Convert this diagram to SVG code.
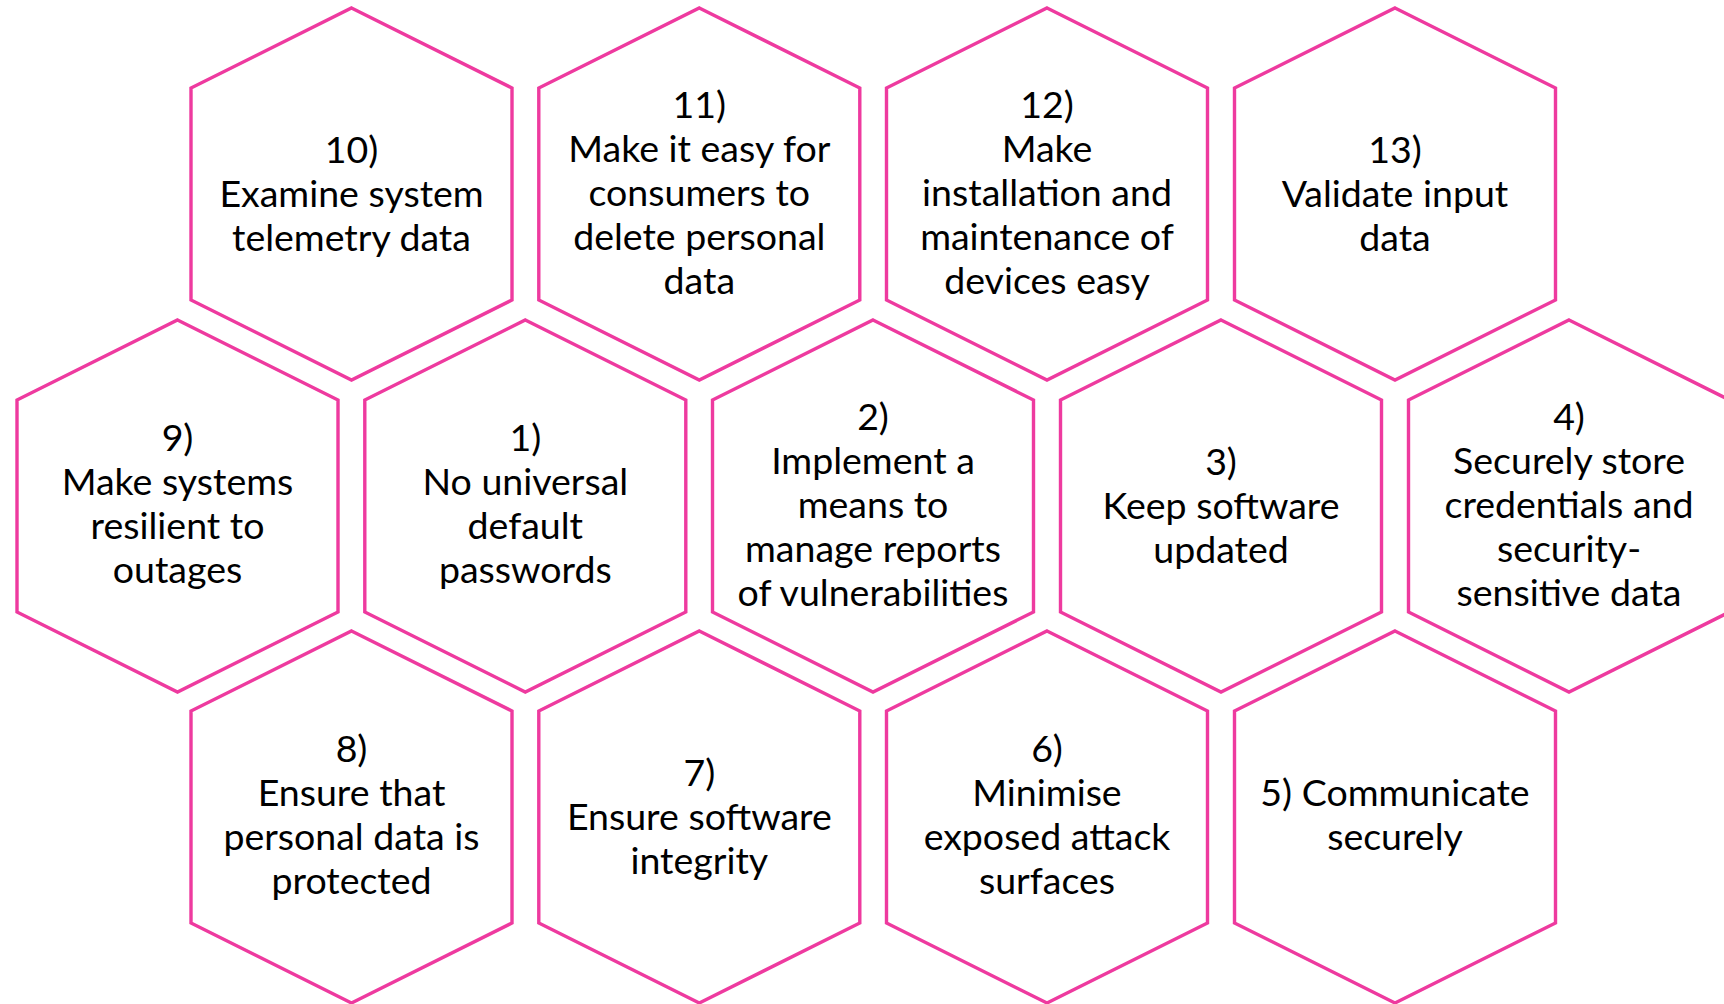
<svg xmlns="http://www.w3.org/2000/svg" xmlns:xlink="http://www.w3.org/1999/xlink" width="1724" height="1004" viewBox="0 0 1724 1004">
<style>
.hex{fill:none;stroke:#EE3A9F;stroke-width:3.4;stroke-linejoin:miter}
.t{font-family:Lato,"Open Sans",sans-serif;font-size:37.5px;fill:#000;text-anchor:middle}
</style>
<defs>
<polygon id="hx" class="hex" points="0,-186 160.5,-106 160.5,106 0,186 -160.5,106 -160.5,-106"/>
</defs>
<rect width="1724" height="1004" fill="#fff"/>
<g id="connectors"/>
<g id="n10" transform="translate(351.5,194)"><use href="#hx"/><text class="t"><tspan x="0" y="-31.5">10)</tspan><tspan x="0" y="12.5">Examine system</tspan><tspan x="0" y="56.5">telemetry data</tspan></text></g>
<g id="n11" transform="translate(699.3,194)"><use href="#hx"/><text class="t"><tspan x="0" y="-76.5">11)</tspan><tspan x="0" y="-32.5">Make it easy for</tspan><tspan x="0" y="11.5">consumers to</tspan><tspan x="0" y="55.5">delete personal</tspan><tspan x="0" y="99.5">data</tspan></text></g>
<g id="n12" transform="translate(1047,194)"><use href="#hx"/><text class="t"><tspan x="0" y="-76.5">12)</tspan><tspan x="0" y="-32.5">Make</tspan><tspan x="0" y="11.5">installation and</tspan><tspan x="0" y="55.5">maintenance of</tspan><tspan x="0" y="99.5">devices easy</tspan></text></g>
<g id="n13" transform="translate(1395,194)"><use href="#hx"/><text class="t"><tspan x="0" y="-31.5">13)</tspan><tspan x="0" y="12.5">Validate input</tspan><tspan x="0" y="56.5">data</tspan></text></g>
<g id="n9" transform="translate(177.5,506)"><use href="#hx"/><text class="t"><tspan x="0" y="-55">9)</tspan><tspan x="0" y="-11">Make systems</tspan><tspan x="0" y="33">resilient to</tspan><tspan x="0" y="77">outages</tspan></text></g>
<g id="n1" transform="translate(525.3,506)"><use href="#hx"/><text class="t"><tspan x="0" y="-55">1)</tspan><tspan x="0" y="-11">No universal</tspan><tspan x="0" y="33">default</tspan><tspan x="0" y="77">passwords</tspan></text></g>
<g id="n2" transform="translate(873,506)"><use href="#hx"/><text class="t"><tspan x="0" y="-76.5">2)</tspan><tspan x="0" y="-32.5">Implement a</tspan><tspan x="0" y="11.5">means to</tspan><tspan x="0" y="55.5">manage reports</tspan><tspan x="0" y="99.5">of vulnerabilities</tspan></text></g>
<g id="n3" transform="translate(1221,506)"><use href="#hx"/><text class="t"><tspan x="0" y="-31.5">3)</tspan><tspan x="0" y="12.5">Keep software</tspan><tspan x="0" y="56.5">updated</tspan></text></g>
<g id="n4" transform="translate(1569,506)"><use href="#hx"/><text class="t"><tspan x="0" y="-76.5">4)</tspan><tspan x="0" y="-32.5">Securely store</tspan><tspan x="0" y="11.5">credentials and</tspan><tspan x="0" y="55.5">security-</tspan><tspan x="0" y="99.5">sensitive data</tspan></text></g>
<g id="n8" transform="translate(351.5,817)"><use href="#hx"/><text class="t"><tspan x="0" y="-55">8)</tspan><tspan x="0" y="-11">Ensure that</tspan><tspan x="0" y="33">personal data is</tspan><tspan x="0" y="77">protected</tspan></text></g>
<g id="n7" transform="translate(699.3,817)"><use href="#hx"/><text class="t"><tspan x="0" y="-31.5">7)</tspan><tspan x="0" y="12.5">Ensure software</tspan><tspan x="0" y="56.5">integrity</tspan></text></g>
<g id="n6" transform="translate(1047,817)"><use href="#hx"/><text class="t"><tspan x="0" y="-55">6)</tspan><tspan x="0" y="-11">Minimise</tspan><tspan x="0" y="33">exposed attack</tspan><tspan x="0" y="77">surfaces</tspan></text></g>
<g id="n5" transform="translate(1395,817)"><use href="#hx"/><text class="t"><tspan x="0" y="-11">5) Communicate</tspan><tspan x="0" y="33">securely</tspan></text></g>
</svg>
